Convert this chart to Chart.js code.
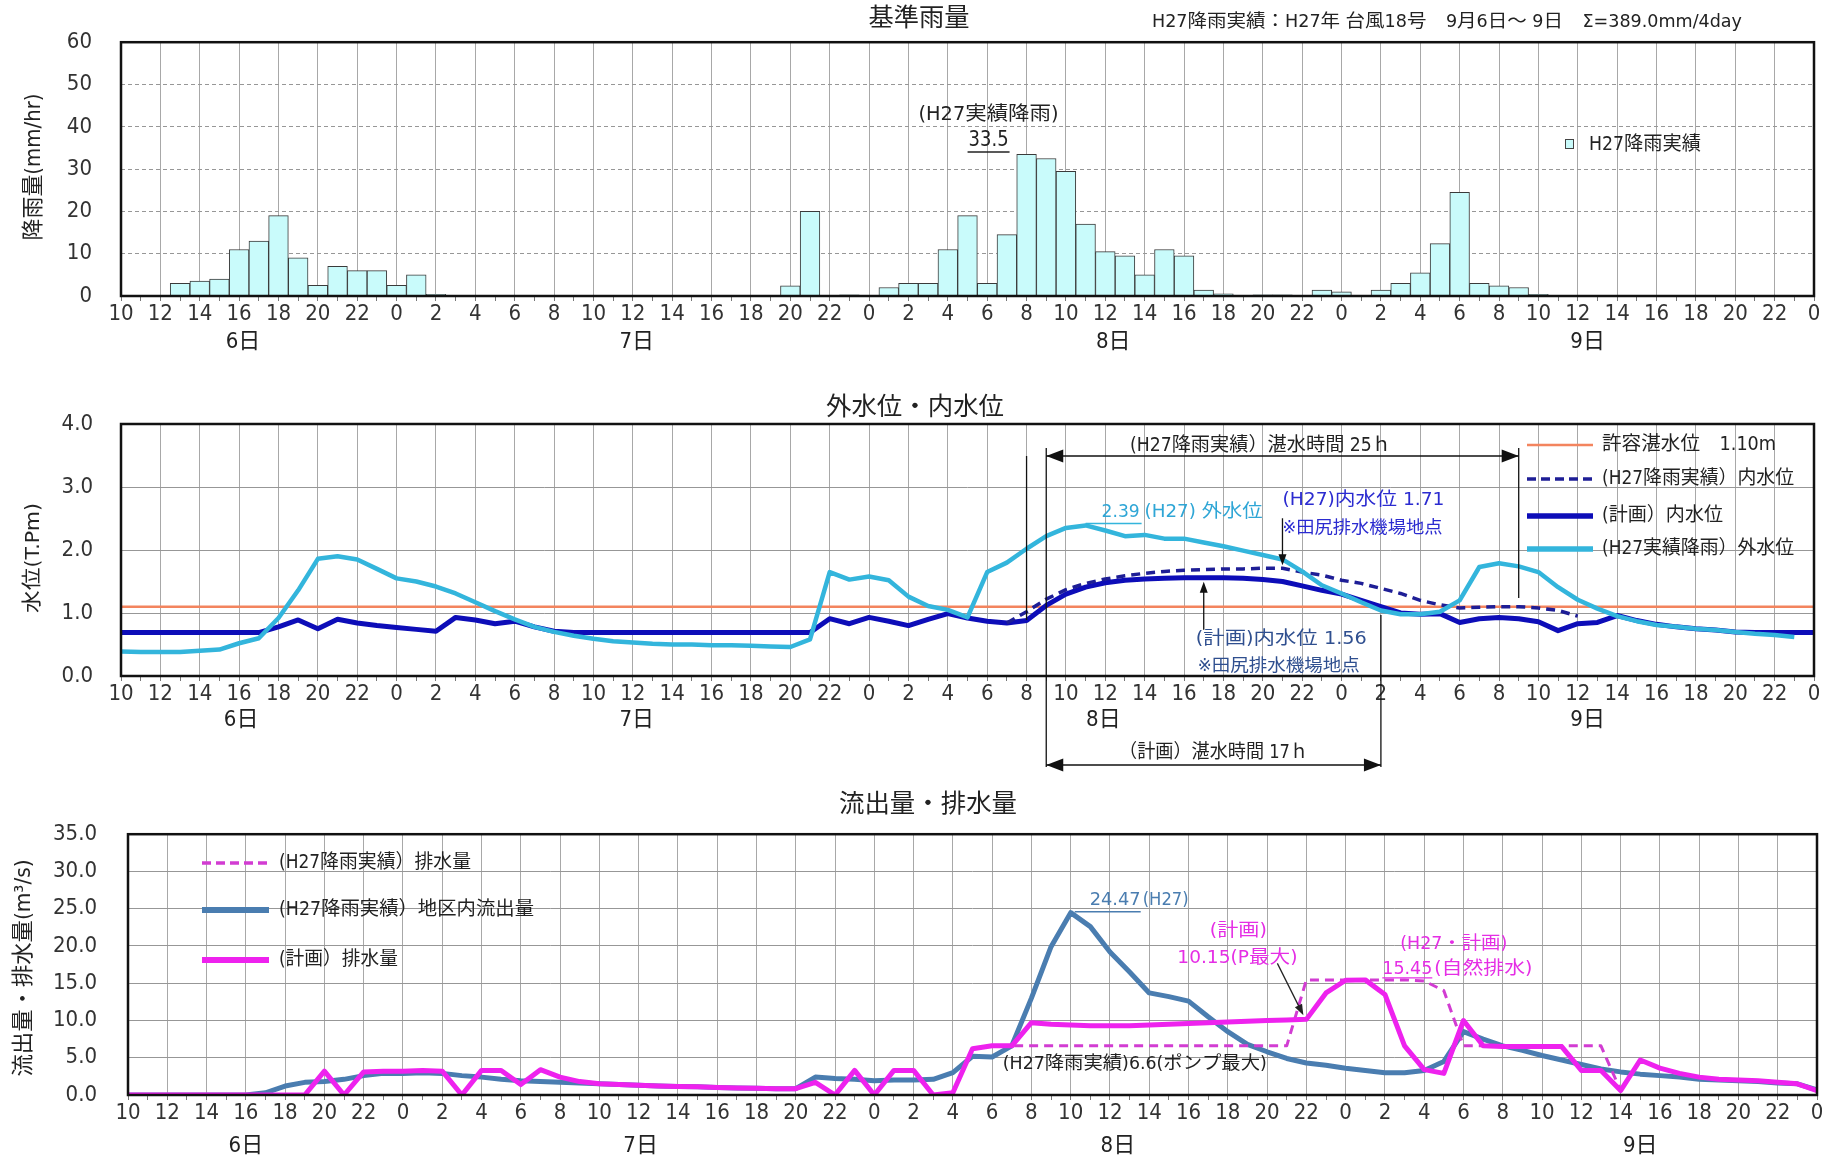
<!DOCTYPE html>
<html><head><meta charset="utf-8">
<script src="https://cdn.jsdelivr.net/npm/chart.js@4.4.1/dist/chart.umd.min.js"></script>
<style>
html,body{margin:0;padding:0;background:#fff;}
#wrap{position:relative;width:1836px;height:1158px;overflow:hidden;background:#fff}
canvas{position:absolute;left:0}
</style></head><body>
<div id="wrap">
<canvas id="c1" width="1836" height="360" style="top:0px;width:1836px;height:360px"></canvas>
<canvas id="c2" width="1836" height="430" style="top:360px;width:1836px;height:430px"></canvas>
<canvas id="c3" width="1836" height="368" style="top:790px;width:1836px;height:368px"></canvas>
</div>
<script>
// ---------------- DATA ----------------
const START_HOUR = 10;            // x = 0 -> 6日 10:00, hourly steps
const X_MAX = 86;                 // 10日 0:00
const dayLabels = ['6日', '7日', '8日', '9日'];
const dayPos1 = [6.2, 26.2, 50.4, 74.5];
const dayPos2 = [6.1, 26.2, 49.9, 74.5];
const dayPos3 = [6.0, 26.1, 50.4, 77.0];

// 基準雨量 (mm/hr), H27降雨実績
const rainfall = [
  0, 0, 0, 3.0, 3.5, 4.0, 11.0, 13.0, 19.0, 9.0,
  2.5, 7.0, 6.0, 6.0, 2.5, 5.0, 0.4, 0, 0, 0,
  0, 0, 0, 0, 0, 0, 0, 0, 0, 0,
  0, 0, 0, 0, 2.4, 20.0, 0, 0.3, 0, 2.0,
  3.0, 3.0, 11.0, 19.0, 3.0, 14.5, 33.5, 32.5, 29.5, 17.0,
  10.5, 9.5, 5.0, 11.0, 9.5, 1.4, 0.5, 0, 0.3, 0.3,
  0, 1.4, 1.0, 0, 1.4, 3.0, 5.5, 12.4, 24.5, 3.0,
  2.4, 2.0, 0.4, 0, 0, 0, 0, 0, 0, 0,
  0, 0, 0, 0, 0, 0, 0
];

// 外水位・内水位 (T.Pm)
const outerLevel = [
  0.39, 0.38, 0.38, 0.38, 0.40, 0.42, 0.52, 0.60, 0.92, 1.36,
  1.86, 1.90, 1.85, 1.70, 1.55, 1.50, 1.42, 1.31, 1.17, 1.03,
  0.90, 0.78, 0.70, 0.64, 0.59, 0.55, 0.53, 0.51, 0.50, 0.50,
  0.49, 0.49, 0.48, 0.47, 0.46, 0.58, 1.65, 1.53, 1.58, 1.52,
  1.26, 1.11, 1.05, 0.93, 1.65, 1.80, 2.02, 2.22, 2.35, 2.39,
  2.31, 2.22, 2.24, 2.18, 2.18, 2.12, 2.06, 1.99, 1.92, 1.85,
  1.66, 1.44, 1.31, 1.17, 1.04, 0.98, 0.98, 1.02, 1.20, 1.73,
  1.79, 1.74, 1.65, 1.41, 1.21, 1.07, 0.95, 0.87, 0.81, 0.78,
  0.75, 0.73, 0.70, 0.67, 0.65, 0.62, null
];
const innerPlan = [
  0.69, 0.69, 0.69, 0.69, 0.69, 0.69, 0.69, 0.69, 0.78, 0.89,
  0.75, 0.90, 0.84, 0.80, 0.77, 0.74, 0.71, 0.93, 0.89, 0.83,
  0.87, 0.78, 0.71, 0.69, 0.69, 0.69, 0.69, 0.69, 0.69, 0.69,
  0.69, 0.69, 0.69, 0.69, 0.69, 0.69, 0.91, 0.83, 0.93, 0.87,
  0.80, 0.90, 0.99, 0.92, 0.87, 0.84, 0.88, 1.12, 1.30, 1.41,
  1.48, 1.52, 1.54, 1.55, 1.56, 1.56, 1.56, 1.55, 1.53, 1.50,
  1.43, 1.36, 1.30, 1.20, 1.10, 1.00, 0.98, 0.99, 0.85, 0.91,
  0.93, 0.91, 0.86, 0.72, 0.83, 0.85, 0.96, 0.88, 0.82, 0.78,
  0.75, 0.73, 0.70, 0.69, 0.69, 0.69, 0.69
];
const innerH27 = [
  ...Array(45).fill(null),
  0.84, 1.02, 1.22, 1.37, 1.47, 1.54, 1.59, 1.63, 1.66, 1.68,
  1.69, 1.70, 1.70, 1.71, 1.71, 1.65, 1.60, 1.52, 1.47, 1.39,
  1.31, 1.20, 1.13, 1.08, 1.09, 1.10, 1.10, 1.08, 1.04, 0.95,
  ...Array(12).fill(null)
];
const ALLOW_LEVEL = 1.10;          // 許容湛水位
const preLineHour = 46;            // 8日 8時
const inundH27 = [47, 71];         // (H27降雨実績) 湛水時間
const inundPlan = [47, 64];        // (計画) 湛水時間

// 流出量・排水量 (m3/s)
const outflowH27 = [
  0, 0, 0, 0, 0, 0, 0, 0.3, 1.2, 1.7,
  1.8, 2.1, 2.6, 2.9, 2.9, 3.0, 2.9, 2.6, 2.4, 2.1,
  1.9, 1.8, 1.7, 1.6, 1.5, 1.4, 1.3, 1.2, 1.15, 1.1,
  1.0, 0.95, 0.9, 0.85, 0.85, 2.4, 2.2, 2.1, 1.9, 2.0,
  2.0, 2.1, 3.0, 5.2, 5.1, 6.6, 13.0, 19.9, 24.47, 22.6,
  19.2, 16.5, 13.7, 13.2, 12.6, 10.5, 8.5, 6.8, 5.8, 4.9,
  4.3, 4.0, 3.6, 3.3, 3.0, 3.0, 3.3, 4.5, 8.5, 7.5,
  6.6, 6.0, 5.3, 4.7, 4.1, 3.5, 3.1, 2.8, 2.6, 2.4,
  2.1, 2.0, 1.9, 1.8, 1.6, 1.5, 0.7
];
const dischargePlan = [
  0, 0, 0, 0, 0, 0, 0, 0, 0, 0,
  3.2, 0, 3.1, 3.2, 3.2, 3.3, 3.2, 0, 3.3, 3.3,
  1.4, 3.4, 2.4, 1.8, 1.5, 1.4, 1.3, 1.2, 1.15, 1.1,
  1.0, 0.95, 0.9, 0.85, 0.85, 1.7, 0, 3.3, 0, 3.3,
  3.3, 0, 0.3, 6.2, 6.6, 6.6, 9.7, 9.5, 9.4, 9.3,
  9.3, 9.3, 9.4, 9.5, 9.6, 9.7, 9.8, 9.9, 10.0, 10.05,
  10.15, 13.7, 15.4, 15.45, 13.5, 6.6, 3.4, 2.9, 10.0, 6.6,
  6.5, 6.5, 6.5, 6.5, 3.3, 3.3, 0.6, 4.7, 3.6, 2.9,
  2.4, 2.1, 2.0, 1.9, 1.7, 1.5, 0.6
];
const dischargeH27 = [
  0, 0, 0, 0, 0, 0, 0, 0, 0, 0,
  3.2, 0, 3.1, 3.2, 3.2, 3.3, 3.2, 0, 3.3, 3.3,
  1.4, 3.4, 2.4, 1.8, 1.5, 1.4, 1.3, 1.2, 1.15, 1.1,
  1.0, 0.95, 0.9, 0.85, 0.85, 1.7, 0, 3.3, 0, 3.3,
  3.3, 0, 0.3, 6.2, 6.6, 6.6, 6.6, 6.6, 6.6, 6.6,
  6.6, 6.6, 6.6, 6.6, 6.6, 6.6, 6.6, 6.6, 6.6, 6.6,
  15.45, 15.45, 15.45, 15.45, 15.45, 15.45, 15.3, 14.0, 6.6, 6.6,
  6.6, 6.6, 6.6, 6.6, 6.6, 6.6, 0.6, 4.7, 3.6, 2.9,
  2.4, 2.1, 2.0, 1.9, 1.7, 1.5, 0.6
];

// ---------------- STYLE ----------------
const FONT = '"Liberation Sans Narrow","DejaVu Sans Condensed","Noto Sans CJK JP",sans-serif';
const W = 1836;
const C = {
  bar: '#c9fbfb', barBorder: '#3a3a3a',
  outer: '#33b5dc', inner: '#0d0db8', innerDash: '#1e1e96', allow: '#f3845e',
  flow: '#4a7db0', mag: '#ee22ee', magDash: '#d23cd2'
};
const xy = arr => arr.map((v, i) => ({x: i, y: v}));

function T(ctx, s, x, y, o = {}) {
  ctx.save();
  ctx.font = `${o.weight || 'normal'} ${o.size || 18}px ${FONT}`;
  ctx.fillStyle = o.color || '#222';
  ctx.textBaseline = 'middle';
  ctx.textAlign = 'left';
  const w = ctx.measureText(s).width;
  const sx = o.w ? Math.max(0.6, Math.min(1.5, o.w / w)) : 1;
  const ww = w * sx;
  const left = o.align === 'center' ? x - ww / 2 : (o.align === 'right' ? x - ww : x);
  ctx.translate(left, y);
  ctx.scale(sx, 1);
  ctx.fillText(s, 0, 0);
  ctx.restore();
  return {left, right: left + ww};
}
function TV(ctx, s, cx, cy, o = {}) {
  ctx.save(); ctx.translate(cx, cy); ctx.rotate(-Math.PI / 2);
  T(ctx, s, 0, 0, Object.assign({}, o, {align: 'center'}));
  ctx.restore();
}
function ln(ctx, x1, y1, x2, y2, color = '#111', w = 1.3, dash = []) {
  ctx.save(); ctx.strokeStyle = color; ctx.lineWidth = w; ctx.setLineDash(dash);
  ctx.beginPath(); ctx.moveTo(x1, y1); ctx.lineTo(x2, y2); ctx.stroke(); ctx.restore();
}
function head(ctx, tx, ty, fx, fy, len = 16, half = 6, color = '#111') {
  const a = Math.atan2(ty - fy, tx - fx);
  ctx.save(); ctx.fillStyle = color; ctx.beginPath();
  ctx.moveTo(tx, ty);
  ctx.lineTo(tx - len * Math.cos(a) + half * Math.sin(a), ty - len * Math.sin(a) - half * Math.cos(a));
  ctx.lineTo(tx - len * Math.cos(a) - half * Math.sin(a), ty - len * Math.sin(a) + half * Math.cos(a));
  ctx.closePath(); ctx.fill(); ctx.restore();
}
const frame = {id: 'frame', afterDatasetsDraw(chart) {
  const {ctx, chartArea: a} = chart;
  ctx.save(); ctx.strokeStyle = '#111'; ctx.lineWidth = 2.5;
  ctx.strokeRect(a.left, a.top, a.right - a.left, a.bottom - a.top); ctx.restore();
}};

function mkOpts(c) {
  return {
    responsive: false, animation: false, events: [],
    layout: {padding: {left: 0, right: W - c.R, top: c.T, bottom: 0}},
    plugins: {legend: {display: false}, tooltip: {enabled: false}, title: {display: false}},
    scales: {
      x: {
        type: 'linear', min: 0, max: X_MAX, offset: false,
        afterFit: s => { s.height = c.H - c.B; },
        ticks: {stepSize: 1, maxTicksLimit: 200, autoSkip: false, maxRotation: 0, minRotation: 0, padding: 0,
          color: '#333', font: {family: FONT, size: 22},
          callback: v => (v % 2 === 0 ? String((START_HOUR + v) % 24) : '')},
        grid: {offset: false, color: ctx => (ctx.tick && ctx.tick.value % 2 === 0) ? '#a8a8a8' : 'rgba(0,0,0,0)',
          tickColor: '#777', tickLength: 5, lineWidth: 1},
        border: {display: false}
      },
      y: {
        min: c.ymin, max: c.ymax,
        afterFit: s => { s.width = c.L; },
        ticks: {stepSize: c.ystep, padding: c.ypad, color: '#333', font: {family: FONT, size: 22}, callback: c.yfmt},
        grid: {color: '#979797', drawTicks: false, lineWidth: 1},
        border: {display: false, dash: c.ydash}
      }
    }
  };
}

// ---------------- CHART 1: 基準雨量 ----------------
const o1 = mkOpts({L: 121, R: 1814, T: 37, B: 296, H: 360, ymin: 0, ymax: 60, ystep: 10,
  yfmt: v => String(v), ydash: [4, 3], ypad: 29});
new Chart(document.getElementById('c1'), {
  type: 'bar',
  data: {datasets: [{label: 'H27降雨実績', data: xy(rainfall), backgroundColor: C.bar, borderColor: C.barBorder,
    borderWidth: 1, barPercentage: 1, categoryPercentage: 1, borderSkipped: 'start'}]},
  options: o1,
  plugins: [frame, {id: 'ann1', afterDraw(chart) {
    const ctx = chart.ctx, xs = chart.scales.x, ys = chart.scales.y;
    T(ctx, '基準雨量', 919, 19, {size: 25, align: 'center', w: 101});
    T(ctx, 'H27降雨実績：H27年 台風18号　9月6日～ 9日　Σ=389.0mm/4day', 1152, 22, {size: 18, w: 590});
    TV(ctx, '降雨量(mm/hr)', 34, 167, {size: 22, w: 147});
    const maxV = Math.max(...rainfall), pk = rainfall.indexOf(maxV);
    const cx = xs.getPixelForValue(pk) - 38;
    T(ctx, '(H27実績降雨)', cx, 115, {size: 19, w: 140, align: 'center'});
    T(ctx, maxV.toFixed(1), cx, 141, {size: 21, w: 40, align: 'center'});
    ln(ctx, cx - 21, 152, cx + 21, 152, '#222', 1.3);
    ctx.save(); ctx.fillStyle = C.bar; ctx.strokeStyle = '#444'; ctx.lineWidth = 1;
    ctx.fillRect(1565.5, 139.5, 8, 9); ctx.strokeRect(1565.5, 139.5, 8, 9); ctx.restore();
    T(ctx, 'H27降雨実績', 1589, 145, {size: 19, w: 112});
    dayLabels.forEach((d, i) => T(ctx, d, xs.getPixelForValue(dayPos1[i]), 342, {size: 22, align: 'center'}));
  }}]
});

// ---------------- CHART 2: 外水位・内水位 ----------------
const o2 = mkOpts({L: 121, R: 1814, T: 64, B: 316, H: 430, ymin: 0, ymax: 4, ystep: 1,
  yfmt: v => v.toFixed(1), ydash: [], ypad: 28});
const lineDS = (label, arr, color, w, dash, order) => ({label, data: arr, borderColor: color, borderWidth: w,
  borderDash: dash || [], pointRadius: 0, fill: false, tension: 0, order, borderJoinStyle: 'round', spanGaps: false});
new Chart(document.getElementById('c2'), {
  type: 'line',
  data: {datasets: [
    lineDS('(H27実績降雨）外水位', xy(outerLevel), C.outer, 4.5, null, 0),
    lineDS('(H27降雨実績）内水位', xy(innerH27), C.innerDash, 3.5, [9, 6], 1),
    lineDS('(計画）内水位', xy(innerPlan), C.inner, 5, null, 2),
    lineDS('許容湛水位', [{x: 0, y: ALLOW_LEVEL}, {x: X_MAX, y: ALLOW_LEVEL}], C.allow, 2.5, null, 3)
  ]},
  options: o2,
  plugins: [frame, {id: 'ann2', afterDraw(chart) {
    const ctx = chart.ctx, xs = chart.scales.x, ys = chart.scales.y;
    const X = v => xs.getPixelForValue(v), Y = v => ys.getPixelForValue(v);
    T(ctx, '外水位・内水位', 915, 48, {size: 25, align: 'center', w: 178});
    TV(ctx, '水位(T.Pm)', 34, 198, {size: 20, w: 110});
    dayLabels.forEach((d, i) => T(ctx, d, X(dayPos2[i]), 360, {size: 22, align: 'center'}));

    // inundation period markers
    const yTop = 96, yBot = 405;
    ln(ctx, X(preLineHour), yTop, X(preLineHour), 260, '#111', 1.3);
    ln(ctx, X(inundH27[0]), 88, X(inundH27[0]), yBot + 2, '#111', 1.3);
    ln(ctx, X(inundH27[1]), 88, X(inundH27[1]), 238, '#111', 1.3);
    ln(ctx, X(inundPlan[1]), 255, X(inundPlan[1]), yBot + 2, '#111', 1.3);
    ln(ctx, X(inundH27[0]), yTop, X(inundH27[1]), yTop, '#111', 1.3);
    head(ctx, X(inundH27[0]), yTop, X(inundH27[0]) + 20, yTop, 17, 6.5);
    head(ctx, X(inundH27[1]), yTop, X(inundH27[1]) - 20, yTop, 17, 6.5);
    T(ctx, '(H27降雨実績）湛水時間 25ｈ', (X(inundH27[0]) + X(inundH27[1])) / 2 - 22, 86, {size: 19, w: 261, align: 'center'});
    ln(ctx, X(inundPlan[0]), yBot, X(inundPlan[1]), yBot, '#111', 1.3);
    head(ctx, X(inundPlan[0]), yBot, X(inundPlan[0]) + 20, yBot, 17, 6.5);
    head(ctx, X(inundPlan[1]), yBot, X(inundPlan[1]) - 20, yBot, 17, 6.5);
    T(ctx, '（計画）湛水時間 17ｈ', (X(inundPlan[0]) + X(inundPlan[1])) / 2, 393, {size: 19, w: 189, align: 'center'});

    // outer level peak
    const oMax = Math.max(...outerLevel.filter(v => v !== null)), oi = outerLevel.indexOf(oMax);
    const px = X(oi), py = Y(oMax);
    ln(ctx, px, py - 2, px + 56, py - 2, C.outer, 1.5);
    T(ctx, oMax.toFixed(2), px + 16, py - 13, {size: 18, w: 38, color: '#2fa6d6'});
    T(ctx, '(H27) 外水位', px + 59, py - 13, {size: 18, w: 118, color: '#2fa6d6'});

    // H27 inner peak
    const hMax = Math.max(...innerH27.filter(v => v !== null)), hi = innerH27.lastIndexOf(hMax);
    const hx = X(hi), hy = Y(hMax);
    ln(ctx, hx, hy - 50, hx, hy - 6, '#111', 1.3);
    head(ctx, hx, hy - 3, hx, hy - 30, 11, 4);
    T(ctx, '(H27)内水位 1.71', hx, hy - 68, {size: 18, w: 162, color: '#2b2bd0'});
    T(ctx, '※田尻排水機場地点', hx, hy - 40, {size: 17, w: 160, color: '#2b2bd0'});

    // plan inner peak
    const pMax = Math.max(...innerPlan);
    const pf = innerPlan.indexOf(pMax), pl = innerPlan.lastIndexOf(pMax), pi = Math.round((pf + pl) / 2);
    const qx = X(pi), qy = Y(pMax);
    ln(ctx, qx, qy + 52, qx, qy + 8, '#111', 1.3);
    head(ctx, qx, qy + 4, qx, qy + 30, 11, 4);
    T(ctx, '(計画)内水位 1.56', qx - 8, qy + 62, {size: 18, w: 171, color: '#2f4f8f'});
    T(ctx, '※田尻排水機場地点', qx - 6, qy + 89, {size: 17, w: 162, color: '#2f4f8f'});

    // legend
    const lx1 = 1527, lx2 = 1593, tx = 1602;
    ln(ctx, lx1, 85, lx2, 85, C.allow, 2.5);
    T(ctx, '許容湛水位　1.10m', tx, 85, {size: 19, w: 174});
    ln(ctx, lx1, 119, lx2, 119, C.innerDash, 3.5, [9, 5]);
    T(ctx, '(H27降雨実績）内水位', tx, 119, {size: 19, w: 192});
    ln(ctx, lx1, 156, lx2, 156, C.inner, 5.5);
    T(ctx, '(計画）内水位', tx, 156, {size: 19, w: 121});
    ln(ctx, lx1, 189, lx2, 189, C.outer, 5.5);
    T(ctx, '(H27実績降雨）外水位', tx, 189, {size: 19, w: 192});
  }}]
});

// ---------------- CHART 3: 流出量・排水量 ----------------
const o3 = mkOpts({L: 128, R: 1817, T: 32, B: 305, H: 368, ymin: 0, ymax: 35, ystep: 5,
  yfmt: v => v.toFixed(1), ydash: [], ypad: 31});
new Chart(document.getElementById('c3'), {
  type: 'line',
  data: {datasets: [
    lineDS('(計画）排水量', xy(dischargePlan), C.mag, 5, null, 0),
    lineDS('(H27降雨実績）排水量', xy(dischargeH27), C.magDash, 3, [9, 6], 1),
    lineDS('(H27降雨実績）地区内流出量', xy(outflowH27), C.flow, 5, null, 2)
  ]},
  options: o3,
  plugins: [frame, {id: 'ann3', afterDraw(chart) {
    const ctx = chart.ctx, xs = chart.scales.x, ys = chart.scales.y;
    const X = v => xs.getPixelForValue(v), Y = v => ys.getPixelForValue(v);
    T(ctx, '流出量・排水量', 928, 15, {size: 25, align: 'center', w: 178});
    TV(ctx, '流出量・排水量(m³/s)', 24, 178, {size: 22, w: 217});
    dayLabels.forEach((d, i) => T(ctx, d, X(dayPos3[i]), 356, {size: 22, align: 'center'}));

    // legend
    ln(ctx, 202, 73, 269, 73, C.magDash, 3.5, [9, 5]);
    T(ctx, '(H27降雨実績）排水量', 279, 73, {size: 19, w: 192});
    ln(ctx, 202, 120, 269, 120, C.flow, 6);
    T(ctx, '(H27降雨実績）地区内流出量', 279, 120, {size: 19, w: 255});
    ln(ctx, 202, 170, 269, 170, C.mag, 6);
    T(ctx, '(計画）排水量', 279, 170, {size: 19, w: 119});

    // outflow peak
    const fMax = Math.max(...outflowH27), fi = outflowH27.indexOf(fMax);
    const fx = X(fi), fy = Y(fMax);
    ln(ctx, fx + 4, fy - 1, fx + 70, fy - 1, C.flow, 1.5);
    T(ctx, fMax.toFixed(2), fx + 19, fy - 12, {size: 18, w: 51, color: C.flow});
    T(ctx, '(H27)', fx + 72, fy - 12, {size: 18, w: 46, color: C.flow});

    // plan pump max
    const pumpMax = 10.15, pi = dischargePlan.indexOf(pumpMax);
    const ax = X(pi), ay = Y(pumpMax);
    ln(ctx, ax - 29, ay - 56, ax - 5, ay - 8, '#222', 1.3);
    head(ctx, ax - 3, ay - 4, ax - 29, ay - 56, 11, 4, '#222');
    T(ctx, '(計画)', ax - 68, ay - 88, {size: 18, w: 57, align: 'center', color: '#e52ee5'});
    T(ctx, '10.15(P最大)', ax - 129, ay - 61, {size: 18, w: 120, color: '#e52ee5'});

    // natural drainage max
    const natMax = Math.max(...dischargePlan), ni = dischargePlan.indexOf(natMax);
    const nx = X(ni) + 17, ny = Y(natMax);
    T(ctx, '(H27・計画)', nx + 18, ny - 36, {size: 18, w: 107, color: '#e52ee5'});
    const r = T(ctx, natMax.toFixed(2), nx, ny - 11, {size: 18, w: 50, color: '#e52ee5'});
    T(ctx, '(自然排水)', r.right + 2, ny - 11, {size: 18, w: 98, color: '#e52ee5'});
    ln(ctx, nx, ny - 2, r.right, ny - 2, '#e52ee5', 1.3);

    // H27 pump max
    const h27Pump = 6.6;
    T(ctx, '(H27降雨実績)6.6(ポンプ最大)', X(45) - 9, Y(h27Pump) + 19, {size: 18, w: 264, color: '#222'});
  }}]
});
</script>
</body></html>
